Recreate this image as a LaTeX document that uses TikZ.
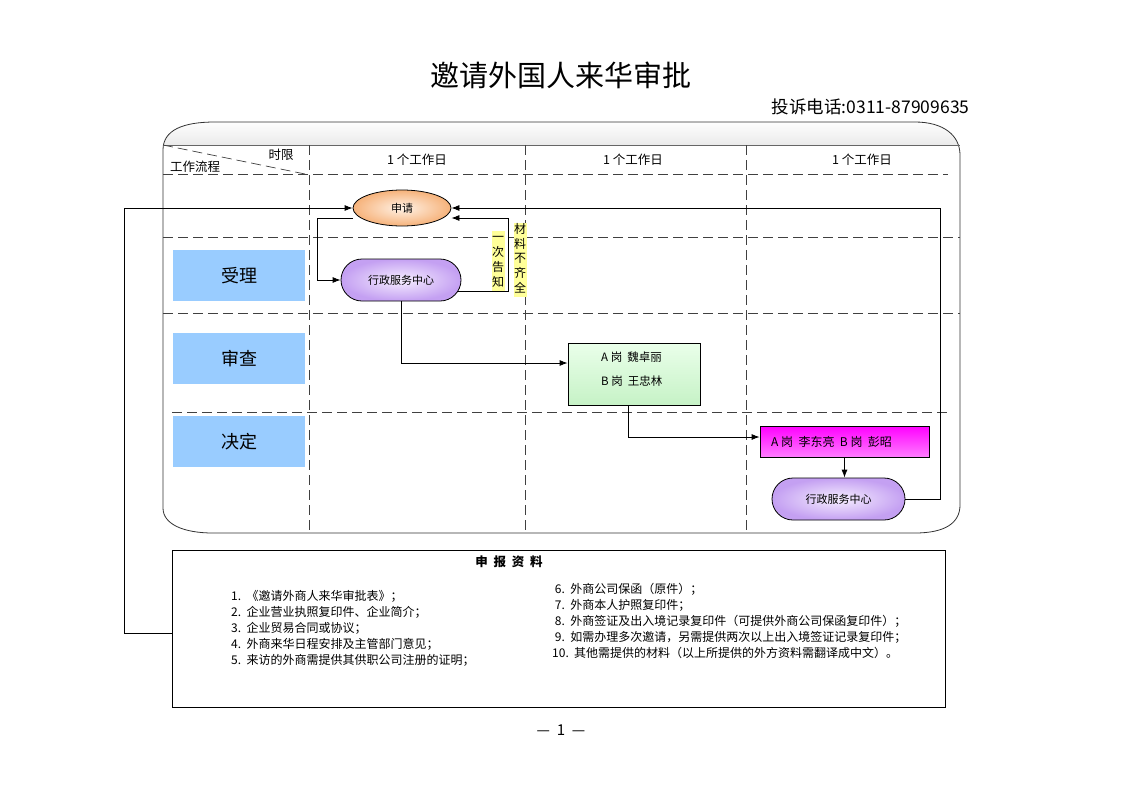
\documentclass[tikz,border=0pt]{standalone}
\usepackage{fontspec}
\setmainfont{Noto Sans CJK SC}
\usetikzlibrary{shapes.misc,shapes.geometric,arrows.meta,calc}
\definecolor{laneblue}{HTML}{99CCFF}
\definecolor{hilite}{HTML}{FFFF99}
\definecolor{purpleout}{HTML}{C4A0F2}
\definecolor{purplein}{HTML}{F6EEFF}
\definecolor{orangeout}{HTML}{F6B27A}
\definecolor{orangein}{HTML}{FFF2E6}
\definecolor{greentop}{HTML}{EAFFEA}
\definecolor{greenbot}{HTML}{C6F2C6}
\definecolor{magleft}{HTML}{FF00FF}
\definecolor{magright}{HTML}{FF7CFF}
\tikzset{
  arr/.style={-{Latex[length=8pt,width=6pt]}, line width=0.8pt},
  gridline/.style={dash pattern=on 10pt off 5pt, line width=0.7pt, draw=black!75},
  lanebox/.style={fill=laneblue, minimum width=132pt, minimum height=51pt, inner sep=0pt, font=\fontsize{18}{18}\selectfont},
  purplebox/.style={rounded rectangle, draw, line width=0.8pt, inner color=purplein, outer color=purpleout, inner sep=0pt, font=\fontsize{11}{11}\selectfont},
  colhead/.style={font=\fontsize{12.5}{12.5}\selectfont},
  vlabel/.style={fill=hilite, inner sep=0.5pt, align=center, font=\fontsize{12}{13.5}\selectfont},
  itemlist/.style={anchor=north west, align=left, inner sep=0pt, font=\fontsize{12}{16}\selectfont},
}
\begin{document}
\begin{tikzpicture}[x=1pt,y=-1pt]
\useasboundingbox (0,0) rectangle (1122,793);
\fill[white] (0,0) rectangle (1122,793);
% title
\node[font=\fontsize{29}{29}\selectfont] (title) at (561,75) {邀请外国人来华审批};
\node[anchor=east, font=\fontsize{17.5}{17.5}\selectfont] (phone) at (973,107) {投诉电话:0311-87909635};
% frame
\def\framepath{(163,150) .. controls (163,130) and (183,122) .. (215,122) -- (915,122) .. controls (943,122) and (960,135) .. (960,155) -- (960,505) .. controls (960,523) and (945,533) .. (915,533) -- (213,533) .. controls (183,533) and (163,524) .. (163,508) -- cycle}
\begin{scope}
  \clip \framepath;
  \shade[top color=white, bottom color=black!8] (160,120) rectangle (965,145);
\end{scope}
\draw[line width=0.8pt, black!80] \framepath;
\draw[line width=0.5pt, black!60] (163,145) -- (960,145);
% grid
\draw[gridline] (163,145) -- (305,174);
\draw[gridline] (163,174) -- (948,174);
\draw[gridline] (163,237) -- (960,237);
\draw[gridline] (163,313) -- (960,313);
\draw[gridline] (172,412) -- (948,412);
\draw[gridline] (309,145) -- (309,533);
\draw[gridline] (525,145) -- (525,533);
\draw[gridline] (746,145) -- (746,533);
% header texts
\node[colhead] (tl) at (281,155) {时限};
\node[colhead] (wf) at (195,167) {工作流程};
\node[colhead] (d1) at (417,160) {1 个工作日};
\node[colhead] (d2) at (633,160) {1 个工作日};
\node[colhead] (d3) at (862,160) {1 个工作日};
% lanes
\node[lanebox] (l1) at (239,275.5) {受理};
\node[lanebox] (l2) at (239,358.5) {审查};
\node[lanebox] (l3) at (239,441.5) {决定};
% nodes
\node[ellipse, draw, line width=0.8pt, minimum width=98pt, minimum height=36pt, inner sep=0pt,
      inner color=orangein, outer color=orangeout, font=\fontsize{11}{11}\selectfont] (apply) at (402,208) {申请};
\node[purplebox, minimum width=120pt, minimum height=42pt] (acc) at (401,280) {行政服务中心};
\node[draw, line width=0.8pt, minimum width=132pt, minimum height=62pt, inner sep=0pt,
      top color=greentop, bottom color=greenbot] (rev) at (634,374) {};
\node[font=\fontsize{11.5}{24}\selectfont, align=left, anchor=north west, inner sep=0pt] (revtxt) at (601,352) {A 岗\ \ 魏卓丽\\B 岗\ \ 王忠林};
\node[draw, line width=0.8pt, minimum width=169pt, minimum height=31pt, inner sep=0pt,
      top color=magleft, bottom color=magright] (dec) at (844.5,441.5) {};
\node[font=\fontsize{12}{12}\selectfont, anchor=west, inner sep=0pt] (dectxt) at (771,441.5) {A 岗\ \ 李东亮\ \ B 岗\ \ 彭昭};
\node[purplebox, minimum width=133pt, minimum height=42pt] (fin) at (838.5,499) {行政服务中心};
% labels
\node[vlabel] (ntc) at (498,261) {\strut 一\\\strut 次\\\strut 告\\\strut 知};
\node[vlabel] (inc) at (520,260) {\strut 材\\\strut 料\\\strut 不\\\strut 齐\\\strut 全};
% docs box
\node[draw, line width=0.8pt, minimum width=773pt, minimum height=157pt, inner sep=0pt] (docs) at (558.5,628.5) {};
\node[font=\fontsize{12.5}{12.5}\selectfont\bfseries] (dtitle) at (509,562) {申\ \ 报\ \ 资\ \ 料};
\node[itemlist] (left) at (231,590) {1.\ \ 《邀请外商人来华审批表》；\\2.\ \ 企业营业执照复印件、企业简介；\\3.\ \ 企业贸易合同或协议；\\4.\ \ 外商来华日程安排及主管部门意见；\\5.\ \ 来访的外商需提供其供职公司注册的证明；};
\node[itemlist] (right) at (552,583) {\ 6.\ \ 外商公司保函（原件）；\\\ 7.\ \ 外商本人护照复印件；\\\ 8.\ \ 外商签证及出入境记录复印件（可提供外商公司保函复印件）；\\\ 9.\ \ 如需办理多次邀请，另需提供两次以上出入境签证记录复印件；\\10.\ \ 其他需提供的材料（以上所提供的外方资料需翻译成中文）。};
\node[font=\fontsize{15}{15}\selectfont] (page) at (561,730) {—\ \ 1\ \ —};
% connectors
\coordinate (c1) at (317,218);
\coordinate (c2) at (508,291);
\coordinate (c4) at (940,208);
\coordinate (c6) at (124,208);
\draw[arr] (apply.west |- c1) -- (c1) |- (acc.west);
\draw[arr] ([xshift=-3pt]acc.east |- c2) -- (c2) |- (apply.east |- c1);
\draw[arr] (fin.east) -| (c4) -- (apply.east);
\draw[arr] ([yshift=-4.5pt]docs.west) -| (c6) -- (apply.west);
\draw[arr] (acc.south) |- ([yshift=11pt]rev.west);
\draw[arr] ([xshift=-6pt]rev.south) |- ([yshift=4.5pt]dec.west);
\draw[arr] (dec.south) -- (dec.south |- fin.north);
\end{tikzpicture}
\end{document}
